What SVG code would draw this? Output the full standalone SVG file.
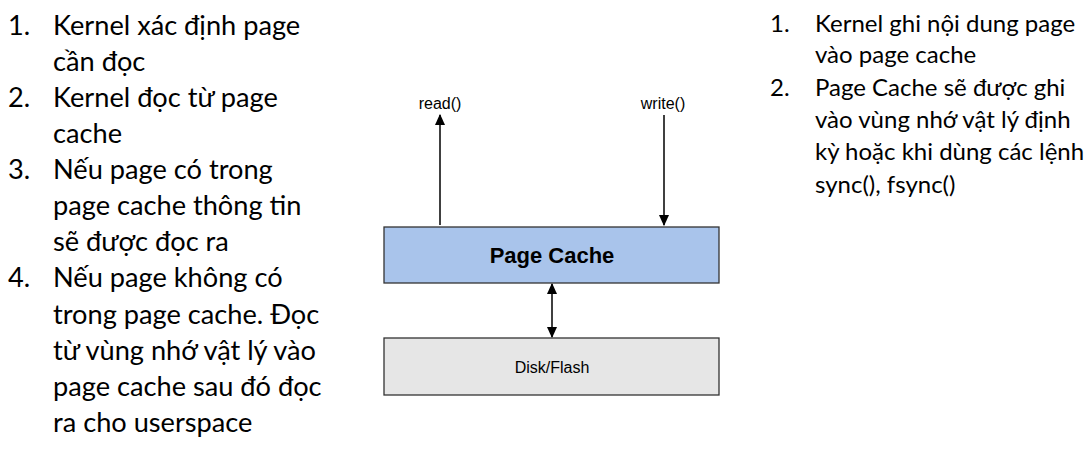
<svg xmlns="http://www.w3.org/2000/svg" width="1092" height="458" viewBox="0 0 1092 458">
<defs>
<style>
.lt{font-family:Lato,"Open Sans","Noto Sans",sans-serif;font-size:27.2px;fill:#000}
.rt{font-family:Lato,"Open Sans","Noto Sans",sans-serif;font-size:24px;fill:#000}
.lbl{font-family:"Liberation Sans",Arial,sans-serif;fill:#000;text-anchor:middle}
.box{stroke:#333;stroke-width:1.3}
.conn{stroke:#000;stroke-width:1.5;fill:none}
</style>
<marker id="ah" viewBox="0 0 10 10" refX="9" refY="5" markerWidth="11" markerHeight="10" orient="auto-start-reverse" markerUnits="userSpaceOnUse" preserveAspectRatio="none"><path d="M0,0 L10,5 L0,10 Z" fill="#000"/></marker>
</defs>
<rect width="1092" height="458" fill="#fff"/>
<g id="left-text" class="lt">
<text x="8" y="35">1.</text><text x="53" y="35">Kernel xác định page</text>
<text x="53" y="71">cần đọc</text>
<text x="8" y="107">2.</text><text x="53" y="107">Kernel đọc từ page</text>
<text x="53" y="143">cache</text>
<text x="8" y="179">3.</text><text x="53" y="179">Nếu page có trong</text>
<text x="53" y="215">page cache thông tin</text>
<text x="53" y="251">sẽ được đọc ra</text>
<text x="8" y="287">4.</text><text x="53" y="287">Nếu page không có</text>
<text x="53" y="324">trong page cache. Đọc</text>
<text x="53" y="360">từ vùng nhớ vật lý vào</text>
<text x="53" y="396">page cache sau đó đọc</text>
<text x="53" y="432">ra cho userspace</text>
</g>
<g id="right-text" class="rt">
<text x="770" y="32">1.</text><text x="815" y="32">Kernel ghi nội dung page</text>
<text x="815" y="63">vào page cache</text>
<text x="770" y="96">2.</text><text x="815" y="96">Page Cache sẽ được ghi</text>
<text x="815" y="128">vào vùng nhớ vật lý định</text>
<text x="815" y="160">kỳ hoặc khi dùng các lệnh</text>
<text x="815" y="193">sync(), fsync()</text>
</g>
<g id="connectors">
<line class="conn" x1="440" y1="225" x2="440" y2="115" marker-end="url(#ah)"/>
<line class="conn" x1="664" y1="115" x2="664" y2="225" marker-end="url(#ah)"/>
<line class="conn" x1="552" y1="284" x2="552" y2="337" marker-start="url(#ah)" marker-end="url(#ah)"/>
</g>
<g id="read-label"><text class="lbl" x="440" y="109" font-size="16">read()</text></g>
<g id="write-label"><text class="lbl" x="663" y="109" font-size="16">write()</text></g>
<g id="page-cache">
<rect class="box" x="384" y="227" width="335" height="56" fill="#a9c4eb"/>
<text class="lbl" x="552" y="263" font-size="22" font-weight="bold">Page Cache</text>
</g>
<g id="disk-flash">
<rect class="box" x="384" y="338" width="335" height="57" fill="#e6e6e6"/>
<text class="lbl" x="552" y="373" font-size="16">Disk/Flash</text>
</g>
</svg>
